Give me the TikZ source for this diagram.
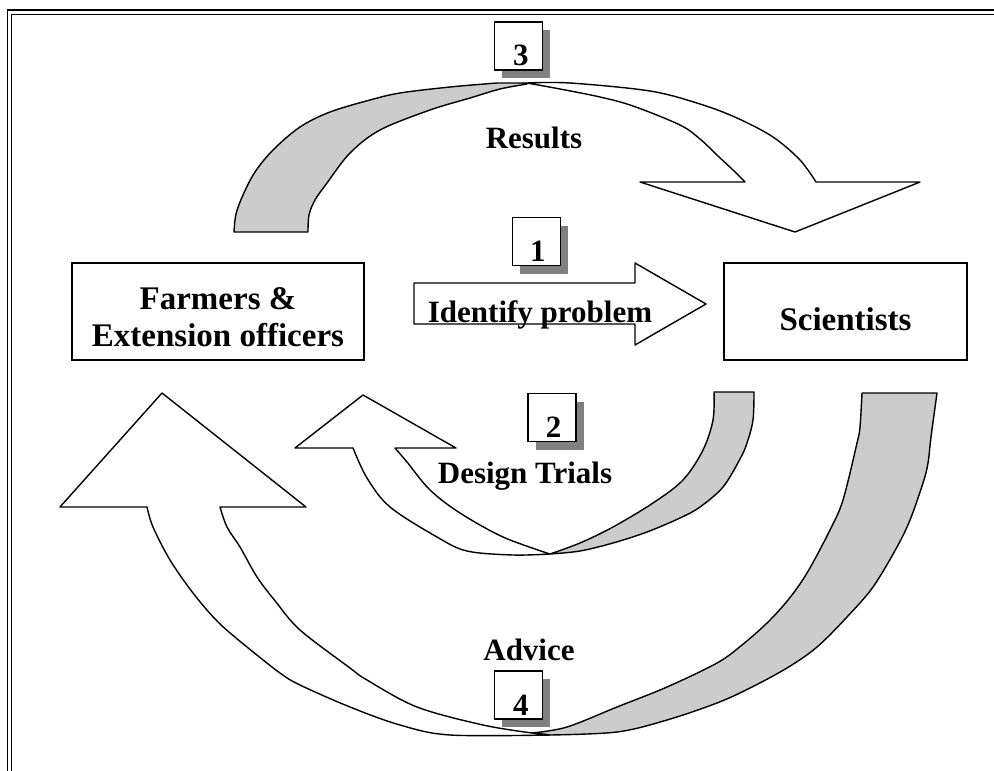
\documentclass[tikz,border=0pt]{standalone}
\usepackage{fontspec}
\setmainfont{Liberation Serif}
\usetikzlibrary{shadows}
\definecolor{ribgray}{RGB}{204,204,204}
\definecolor{shadowgray}{RGB}{128,128,128}
\begin{document}
\begin{tikzpicture}[x=1pt,y=-1pt,
  bigfont/.style={font=\fontsize{31}{35}\selectfont\bfseries},
  boxfont/.style={font=\fontsize{33}{37}\selectfont\bfseries},
  ent/.style={draw, line width=1.4pt, fill=white, inner sep=0pt, boxfont, align=center},
  numbox/.style={draw, line width=1.4pt, fill=white, minimum size=48pt, inner sep=0pt,
    text height=40pt, text depth=0pt, bigfont,
    drop shadow={shadow xshift=8pt, shadow yshift=-8pt, fill=shadowgray, opacity=1}},
  lbl/.style={bigfont, inner sep=0pt, anchor=base},
  rib/.style={draw, line width=1.4pt, line join=round},
  ribg/.style={rib, fill=ribgray},
  ribw/.style={rib, fill=white},
  frame/.style={line width=1.8pt},
  framein/.style={line width=1.1pt},
]
\useasboundingbox (0,0) rectangle (994,771);
% frame
\draw[frame] (7.5,771) -- (7.5,10) -- (994,10);
\draw[framein] (11.7,771) -- (11.7,14.6) -- (994,14.6);

% arrow 3 (Results): gray underside then white top
\draw[ribg] plot[smooth, tension=0.55] coordinates {(234,232) (236,214) (243,195) (255,172) (273,150) (300,127) (330,112) (370,100) (400,93) (450,87) (497,83)}
  -- (527,83)
  -- plot[smooth, tension=0.55] coordinates {(527,84) (500,89) (470,98) (430,110) (380,130) (350,153) (327,183) (315,200) (309,215) (308,232)}
  -- cycle;
\draw[ribw] plot[smooth, tension=0.55] coordinates {(527,83) (570,83) (650,91) (700,104) (737,118) (773,137) (800,160) (816,182)}
  -- (920,182) -- (795,232) -- (640,182)
  -- plot[smooth, tension=0.55] coordinates {(745,182) (733,170) (718,156) (700,139) (680,125) (633,106) (600,97) (560,89) (527,83)}
  -- cycle;

% arrow 2 (Design Trials)
\draw[ribg] (714,392) -- plot[smooth, tension=0.55] coordinates {(754,392) (753,420) (747,443) (740,459) (723,487) (700,507) (680,518) (647,532) (613,543) (580,551) (550,554)}
  -- plot[smooth, tension=0.55] coordinates {(550,554) (580,543) (613,527) (653,503) (683,480) (703,450) (713,420) (714,392)}
  -- cycle;
\draw[ribw] plot[smooth, tension=0.55] coordinates {(550,554) (513,555) (467,551) (437,537) (390,507) (367,478) (353,448)}
  -- (295,448) -- (363,395) -- (456,448)
  -- plot[smooth, tension=0.55] coordinates {(395,448) (407,462) (430,490) (460,513) (503,537) (550,554)}
  -- cycle;

% arrow 4 (Advice)
\draw[ribg] (862,393) -- plot[smooth, tension=0.55] coordinates {(937,393) (931,437) (928,463) (923,483) (910,520) (897,547) (873,587) (847,617) (817,647) (787,668) (750,688) (717,703) (667,720) (617,732) (550,735)}
  -- plot[smooth, tension=0.55] coordinates {(532,733) (567,727) (617,707) (667,687) (717,663) (742,645) (767,623) (788,600) (807,573) (830,530) (843,500) (857,443) (860,427) (862,393)}
  -- cycle;
\draw[ribw] plot[smooth, tension=0.55] coordinates {(550,735) (450,735) (400,725) (350,707) (300,685) (280,673) (247,647) (218,622) (193,593) (170,560) (153,527) (147,507)}
  -- (60,507) -- (162,393) -- (306,507)
  -- plot[smooth, tension=0.55] coordinates {(220,507) (227,527) (240,547) (257,577) (276,602) (300,630) (350,668) (367,680) (417,707) (483,725) (532,733)}
  -- cycle;

% arrow 1 (Identify problem)
\draw[ribw] (414,283) -- (635,283) -- (635,263) -- (706,304) -- (635,345) -- (635,324) -- (414,324) -- cycle;

% entities
\node[ent, minimum width=292pt, minimum height=97pt] (farm) at (218,311.5) {\rule{0pt}{34pt}Farmers \&\\Extension officers};
\node[ent, minimum width=243pt, minimum height=97pt, text height=37pt, text depth=0pt] (sci) at (845.5,311.5) {Scientists};

% labels
\node[lbl] (lres) at (534,148) {Results};
\node[lbl] (lidp) at (540,322) {Identify problem};
\node[lbl] (ldes) at (525,483) {Design Trials};
\node[lbl] (ladv) at (529,660) {Advice};

% number boxes
\node[numbox] (n1) at (536.3,241.5) {\hspace{3pt}1};
\node[numbox] (n2) at (552,417.5) {\hspace{3pt}2};
\node[numbox] (n3) at (518.3,45.8) {\hspace{5pt}3};
\node[numbox] (n4) at (518.3,695) {\hspace{5pt}4};
\end{tikzpicture}
\end{document}
